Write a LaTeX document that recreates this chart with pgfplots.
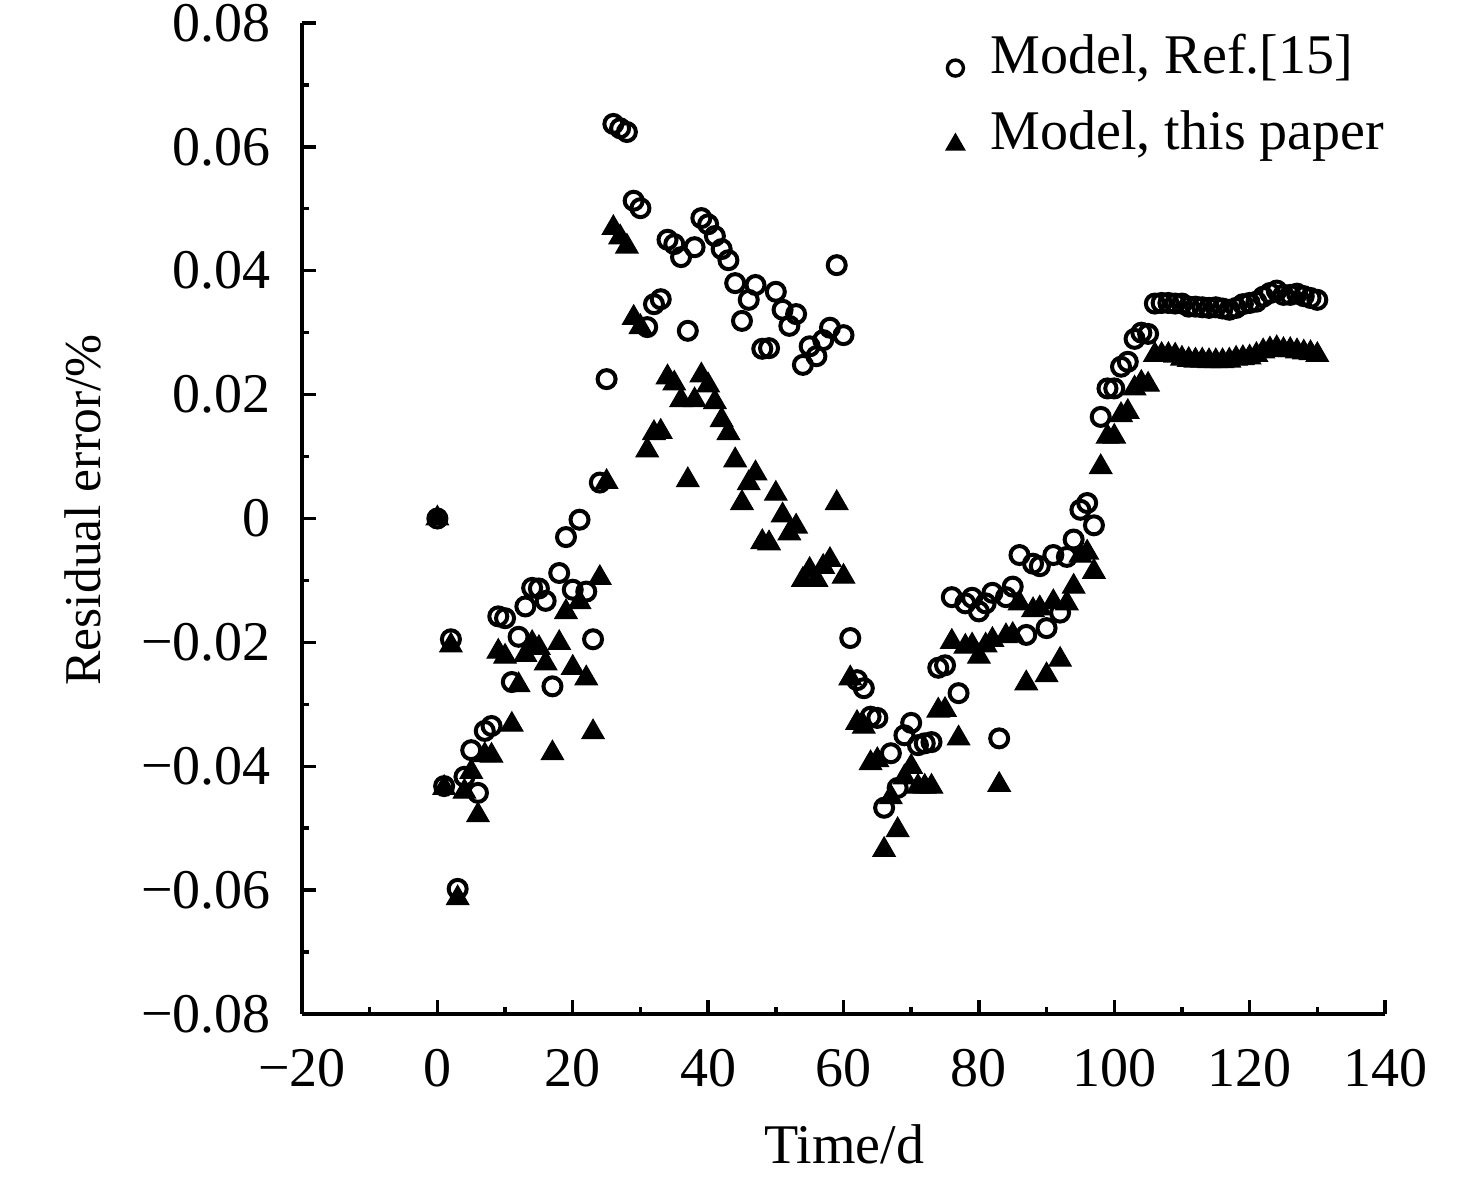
\documentclass[border=0pt]{standalone}
\usepackage{pgfplots}
\pgfplotsset{compat=1.18}
\usepackage{pgfplotstable}
\usepackage{fontspec}
\setmainfont{Liberation Serif}

\pgfplotstableread{
x y
0 0
1 -0.0432
2 -0.0195
3 -0.0598
4 -0.0417
5 -0.0374
6 -0.0443
7 -0.0343
8 -0.0335
9 -0.0158
10 -0.0161
11 -0.0264
12 -0.0191
13 -0.0142
14 -0.0112
15 -0.0113
16 -0.0133
17 -0.0271
18 -0.0088
19 -0.0030
20 -0.0115
21 -0.0002
22 -0.0118
23 -0.0195
24 0.0058
25 0.0225
26 0.0637
27 0.0630
28 0.0624
29 0.0513
30 0.0501
31 0.0309
32 0.0346
33 0.0354
34 0.0450
35 0.0443
36 0.0422
37 0.0303
38 0.0438
39 0.0485
40 0.0475
41 0.0456
42 0.0435
43 0.0417
44 0.0380
45 0.0319
46 0.0353
47 0.0377
48 0.0274
49 0.0275
50 0.0366
51 0.0337
52 0.0311
53 0.0330
54 0.0248
55 0.0278
56 0.0262
57 0.0288
58 0.0308
59 0.0409
60 0.0296
61 -0.0193
62 -0.0261
63 -0.0274
64 -0.0320
65 -0.0322
66 -0.0467
67 -0.0379
68 -0.0435
69 -0.0350
70 -0.0330
71 -0.0366
72 -0.0363
73 -0.0361
74 -0.0241
75 -0.0237
76 -0.0127
77 -0.0282
78 -0.0137
79 -0.0128
80 -0.0150
81 -0.0137
82 -0.0120
83 -0.0355
84 -0.0127
85 -0.0110
86 -0.0059
87 -0.0188
88 -0.0073
89 -0.0077
90 -0.0177
91 -0.0059
92 -0.0152
93 -0.0062
94 -0.0034
95 0.0014
96 0.0025
97 -0.0011
98 0.0164
99 0.0210
100 0.0210
101 0.0245
102 0.0253
103 0.0290
104 0.0300
105 0.0298
106 0.0347
107 0.0348
108 0.0348
109 0.0347
110 0.0347
111 0.0342
112 0.0342
113 0.0341
114 0.0340
115 0.0341
116 0.0339
117 0.0337
118 0.0340
119 0.0346
120 0.0348
121 0.0350
122 0.0358
123 0.0364
124 0.0368
125 0.0361
126 0.0361
127 0.0363
128 0.0359
129 0.0356
130 0.0353
}\refdata

\pgfplotstableread{
x y
0 0
1 -0.0435
2 -0.0205
3 -0.0613
4 -0.0441
5 -0.0409
6 -0.0479
7 -0.0382
8 -0.0383
9 -0.0215
10 -0.0223
11 -0.0333
12 -0.0269
13 -0.0220
14 -0.0201
15 -0.0209
16 -0.0234
17 -0.0379
18 -0.0201
19 -0.0151
20 -0.0241
21 -0.0135
22 -0.0258
23 -0.0345
24 -0.0096
25 0.0059
26 0.0469
27 0.0454
28 0.0439
29 0.0324
30 0.0309
31 0.0110
32 0.0138
33 0.0140
34 0.0228
35 0.0218
36 0.0191
37 0.0062
38 0.0191
39 0.0231
40 0.0215
41 0.0188
42 0.0159
43 0.0138
44 0.0094
45 0.0025
46 0.0057
47 0.0073
48 -0.0038
49 -0.0040
50 0.0040
51 0.0005
52 -0.0024
53 -0.0013
54 -0.0099
55 -0.0083
56 -0.0099
57 -0.0078
58 -0.0067
59 0.0025
60 -0.0094
61 -0.0258
62 -0.0330
63 -0.0336
64 -0.0395
65 -0.0390
66 -0.0535
67 -0.0450
68 -0.0503
69 -0.0418
70 -0.0401
71 -0.0433
72 -0.0433
73 -0.0433
74 -0.0310
75 -0.0309
76 -0.0199
77 -0.0355
78 -0.0207
79 -0.0205
80 -0.0223
81 -0.0205
82 -0.0196
83 -0.0430
84 -0.0190
85 -0.0188
86 -0.0137
87 -0.0266
88 -0.0148
89 -0.0145
90 -0.0253
91 -0.0135
92 -0.0228
93 -0.0137
94 -0.0110
95 -0.0060
96 -0.0055
97 -0.0086
98 0.0083
99 0.0132
100 0.0132
101 0.0167
102 0.0172
103 0.0210
104 0.0219
105 0.0216
106 0.0264
107 0.0264
108 0.0264
109 0.0263
110 0.0258
111 0.0256
112 0.0255
113 0.0255
114 0.0254
115 0.0254
116 0.0254
117 0.0255
118 0.0258
119 0.0259
120 0.0260
121 0.0264
122 0.0270
123 0.0273
124 0.0275
125 0.0272
126 0.0272
127 0.0270
128 0.0268
129 0.0267
130 0.0264
}\ourdata

\begin{document}
\fontsize{14bp}{17bp}\selectfont
\begin{tikzpicture}
\useasboundingbox (-75.5bp,-42bp) rectangle (293.5bp,253.5bp);
\begin{axis}[
  at={(0,0)}, anchor=south west,
  scale only axis,
  width=270.75bp, height=247.75bp,
  xmin=-20, xmax=140, ymin=-0.08, ymax=0.08,
  axis x line*=bottom, axis y line*=left,
  axis line style={line width=0.85bp, -},
  tick align=inside,
  major tick length=3.6bp, minor tick length=1.8bp,
  every tick/.style={black, line width=0.85bp},
  xtick={-20,0,20,40,60,80,100,120,140},
  xticklabels={−20,0,20,40,60,80,100,120,140},
  minor xtick={-10,10,30,50,70,90,110,130},
  ytick={-0.08,-0.06,-0.04,-0.02,0,0.02,0.04,0.06,0.08},
  yticklabels={−0.08,−0.06,−0.04,−0.02,0,0.02,0.04,0.06,0.08},
  minor ytick={-0.07,-0.05,-0.03,-0.01,0.01,0.03,0.05,0.07},
  xticklabel style={inner sep=0pt, anchor=north, yshift=-8.5bp},
  yticklabel style={inner sep=0pt, anchor=east, xshift=-7.6bp},
  xlabel={Time/d},
  ylabel={Residual error/\%},
  every axis x label/.style={at={(axis description cs:0.5009,-0.1504)}, anchor=base},
  every axis y label/.style={at={(axis description cs:-0.1865,0.5086)}, anchor=base, rotate=90,
    font=\fontsize{12.9bp}{15bp}\selectfont},
  legend style={at={(rel axis cs:1,1)}, anchor=north east, draw=none, fill=none,
    inner sep=0pt, row sep=3.25bp, column sep=4.5bp, xshift=2bp, yshift=-0.6bp},
  legend cell align=left,
  clip=false,
]
\addplot[only marks, mark=o, mark size=2.25bp, mark options={line width=1bp, black}, black,
  legend image post style={mark size=2bp, mark options={line width=0.85bp}, yshift=-2.5bp}]
  table[x=x,y=y] {\refdata};
\addlegendentry{Model, Ref.[15]}
\addplot[only marks, mark=triangle*, mark size=3.2bp, mark options={line width=0.3bp, black, fill=black}, black,
  legend image post style={mark size=2.7bp, yshift=-2.5bp}]
  table[x=x,y=y] {\ourdata};
\addlegendentry{Model, this paper}
\end{axis}
\end{tikzpicture}
\end{document}
